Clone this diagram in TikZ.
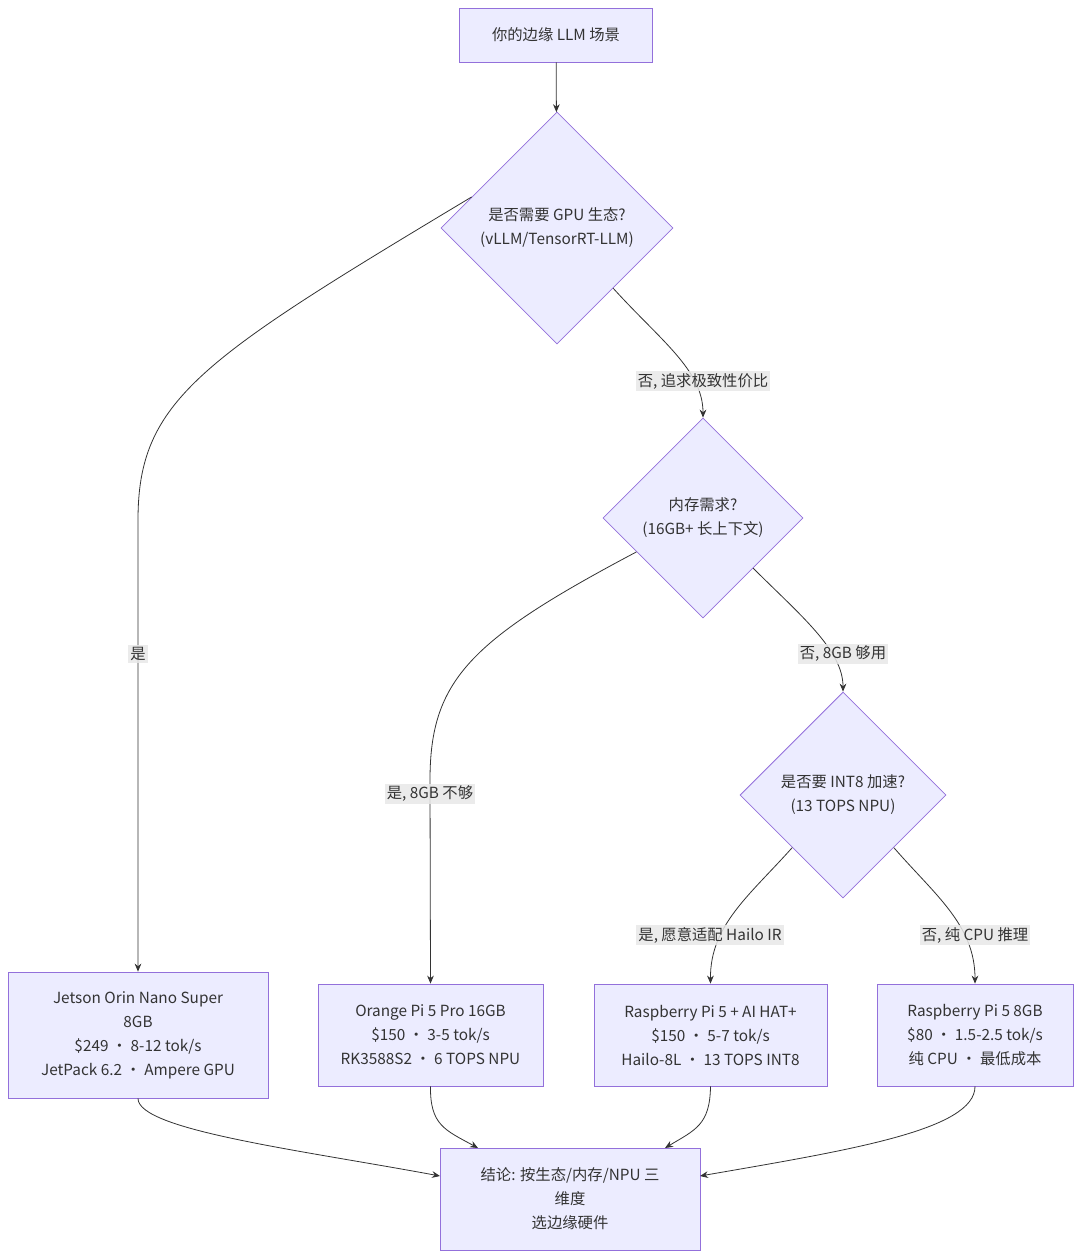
\documentclass[tikz,border=0pt]{standalone}
\usepackage{fontspec}
\setmainfont{Noto Sans CJK SC}
\usetikzlibrary{shapes.geometric,arrows.meta}
\definecolor{nfill}{HTML}{ECECFF}
\definecolor{nstroke}{HTML}{9370DB}
\definecolor{txt}{HTML}{333333}
\definecolor{lbl}{HTML}{E8E8E8}
\begin{document}
\begin{tikzpicture}[x=0.75pt,y=-0.75pt,font=\fontsize{11.5pt}{18pt}\selectfont,text=txt,
 box/.style={draw=nstroke,fill=nfill,align=center,inner sep=0,line width=0.6pt},
 dia/.style={diamond,draw=nstroke,fill=nfill,align=center,inner sep=0,line width=0.6pt},
 lab/.style={fill=lbl,fill opacity=0.85,text opacity=1,inner sep=1.5pt},
 ed/.style={draw=txt,line width=0.6pt,-{Stealth[length=6pt,width=5pt]}}]
\useasboundingbox (0,0) rectangle (1081,1259);
\node[box,minimum width=193*0.75pt,minimum height=54*0.75pt] (top) at (556,35) {你的边缘 LLM 场景};
\node[dia,minimum width=232*0.75pt,minimum height=232*0.75pt] (d1) at (557,228) {是否需要 GPU 生态?\\(vLLM/TensorRT-LLM)};
\node[dia,minimum width=200*0.75pt,minimum height=200*0.75pt] (d2) at (703,518) {内存需求?\\(16GB+ 长上下文)};
\node[dia,minimum width=206*0.75pt,minimum height=206*0.75pt] (d3) at (843,795) {是否要 INT8 加速?\\(13 TOPS NPU)};
\node[box,minimum width=260*0.75pt,minimum height=126*0.75pt] (j) at (138,1035) {Jetson Orin Nano Super\\8GB\\\$249 · 8-12 tok/s\\JetPack 6.2 · Ampere GPU};
\node[box,minimum width=225*0.75pt,minimum height=102*0.75pt] (o) at (430.5,1035) {Orange Pi 5 Pro 16GB\\\$150 · 3-5 tok/s\\RK3588S2 · 6 TOPS NPU};
\node[box,minimum width=233*0.75pt,minimum height=102*0.75pt] (r) at (710.5,1035) {Raspberry Pi 5 + AI HAT+\\\$150 · 5-7 tok/s\\Hailo-8L · 13 TOPS INT8};
\node[box,minimum width=196*0.75pt,minimum height=102*0.75pt] (p) at (975,1035) {Raspberry Pi 5 8GB\\\$80 · 1.5-2.5 tok/s\\纯 CPU · 最低成本};
\node[box,minimum width=260*0.75pt,minimum height=102*0.75pt] (e) at (570,1199) {结论: 按生态/内存/NPU 三\\维度\\选边缘硬件};
\coordinate (ein1) at (478,1148);
\coordinate (ein2) at (665,1148);
\coordinate (ewl) at (440,1176);
\coordinate (ewr) at (700,1176);
\draw[ed] (top) -- (d1);
\draw[ed] (d1.160) .. controls (200,360) and (138,400) .. (138,520) -- (j.north);
\draw[ed] (d1.-47) .. controls (660,340) and (703,370) .. (d2.north);
\draw[ed] (d2.207) .. controls (470,640) and (430,680) .. (430,780) -- (o.north);
\draw[ed] (d2.-45) .. controls (800,615) and (843,650) .. (d3.north);
\draw[ed] (d3.-134) .. controls (750,895) and (710,925) .. (r.north);
\draw[ed] (d3.-46) .. controls (935,895) and (975,925) .. (p.north);
\draw[ed] (j.south) .. controls (138,1130) and (300,1150) .. (ewl);
\draw[ed] (o.south) .. controls (430,1125) and (445,1130) .. (ein1);
\draw[ed] (r.south) .. controls (710,1125) and (695,1130) .. (ein2);
\draw[ed] (p.south) .. controls (975,1130) and (850,1150) .. (ewr);
\node[lab] (l1) at (138,654) {是};
\node[lab] (l2) at (703,381) {否, 追求极致性价比};
\node[lab] (l3) at (430,794) {是, 8GB 不够};
\node[lab] (l4) at (843,654) {否, 8GB 够用};
\node[lab] (l5) at (710,935) {是, 愿意适配 Hailo IR};
\node[lab] (l6) at (975,935) {否, 纯 CPU 推理};
\end{tikzpicture}
\end{document}
